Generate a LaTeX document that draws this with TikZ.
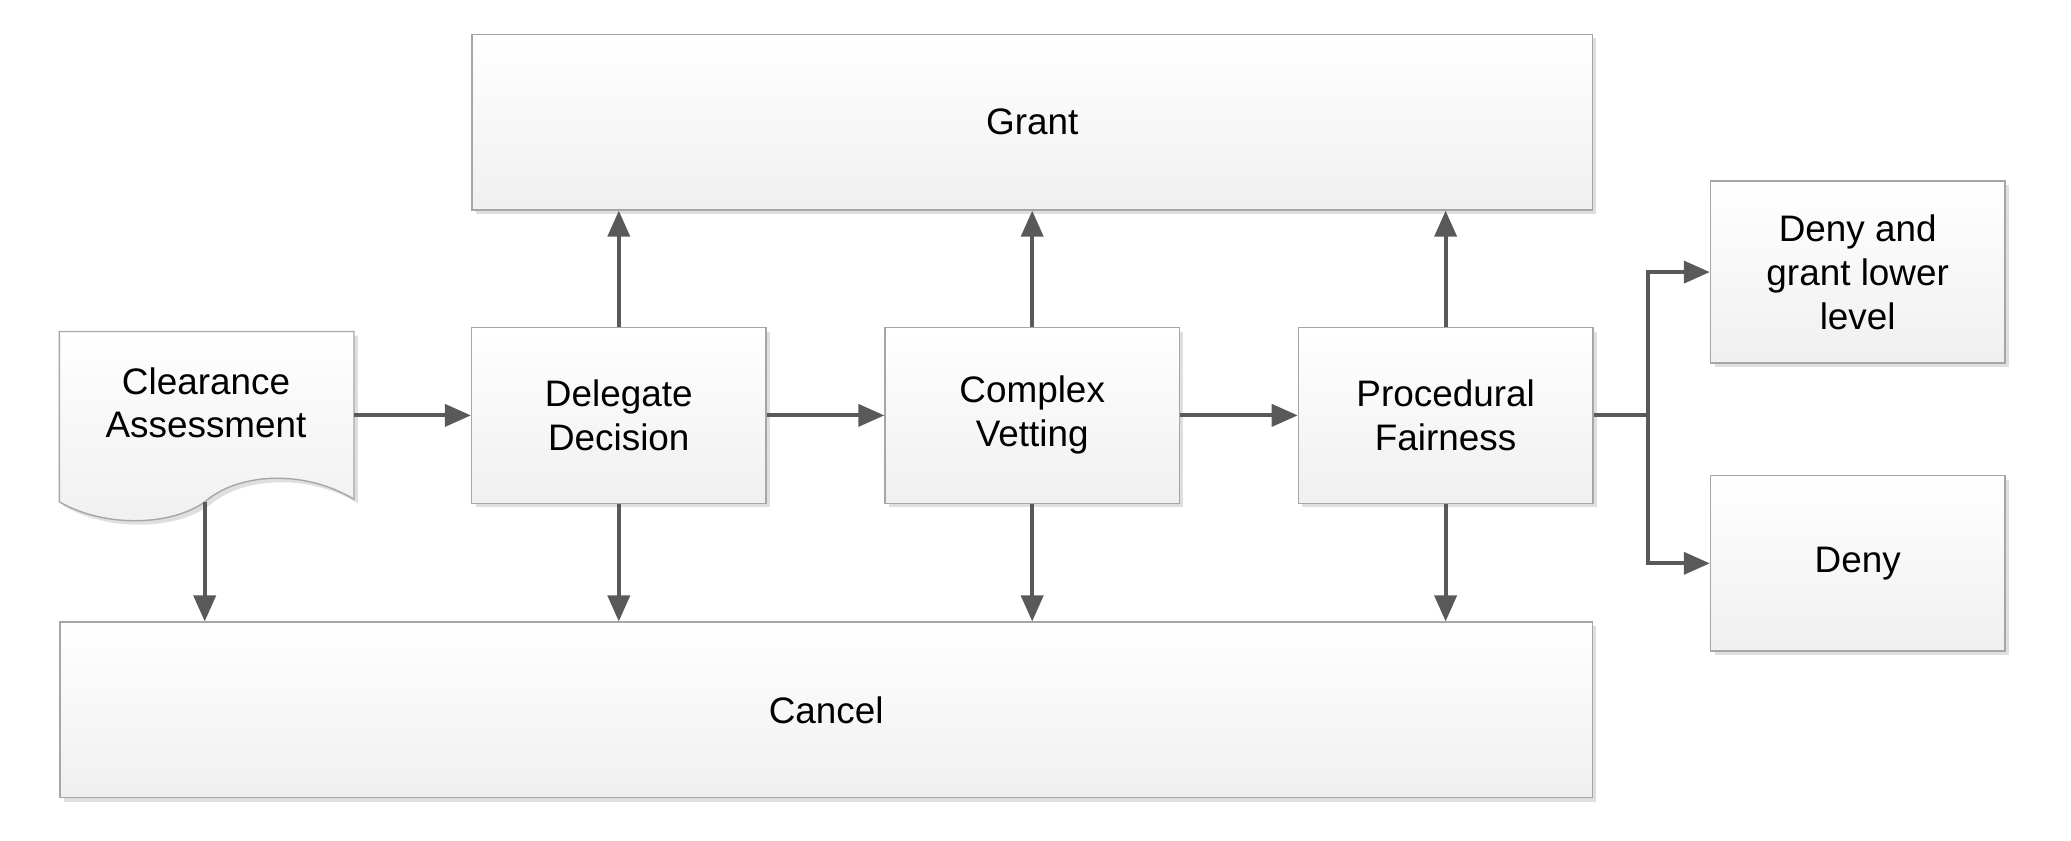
\documentclass[tikz,border=0pt]{standalone}
\usepackage{fontspec}
\setmainfont{Liberation Sans}
\usetikzlibrary{arrows.meta,shadows}
\begin{document}
\begin{tikzpicture}[x=0.013208cm, y=-0.013208cm]
    % Define node styles
    \tikzstyle{box}=[rectangle, draw=gray!70, top color=white, bottom color=gray!12, minimum width=2.945cm, minimum height=1.757cm, align=center, font=\fontsize{10.5}{12.5}\selectfont, drop shadow={shadow xshift=0.04cm, shadow yshift=-0.04cm, opacity=0.25}]
    \tikzstyle{flow}=[-{Triangle[length=2.6mm, width=2.2mm]}, line width=1.1pt, draw=black!65]
    \useasboundingbox (0,0) rectangle (1568,636);

    % Document shape for the assessment
    \draw[draw=gray!70, top color=white, bottom color=gray!12, drop shadow={shadow xshift=0.04cm, shadow yshift=-0.04cm, opacity=0.25}]
        (45,251) -- (268,251) -- (268,378)
        .. controls (230,355) and (180,358) .. (155,380)
        .. controls (130,398) and (80,400) .. (45,380) -- cycle;
    \node[align=center, font=\fontsize{10.5}{12.5}\selectfont] (ca) at (156,305) {Clearance\\Assessment};
    \coordinate (cabot) at (155,380);

    % Main row
    \node[box] (dd) at (468.5,314.5) {Delegate\\Decision};
    \node[box] (cv) at (781.5,314.5) {Complex\\Vetting};
    \node[box] (pf) at (1094.5,314.5) {Procedural\\Fairness};

    % Outcomes
    \node[box, minimum width=11.21cm] (grant) at (781.5,92.5) {Grant};
    \node[box, minimum width=15.33cm] (cancel) at (625.5,537.5) {Cancel};
    \node[box, minimum height=1.82cm] (dgl) at (1406.5,206) {Deny and\\grant lower\\level};
    \node[box] (deny) at (1406.5,426.5) {Deny};

    % Connectors
    \draw[flow] (268,314.5) -- (dd.west);
    \draw[flow] (dd) -- (cv);
    \draw[flow] (cv) -- (pf);
    \draw[flow] (cabot) -- (cabot |- cancel.north);
    \foreach \n in {dd,cv,pf} {
        \draw[flow] (\n.north) -- (\n.north |- grant.south);
        \draw[flow] (\n.south) -- (\n.south |- cancel.north);
    }
    \coordinate (split) at (1248,314.5);
    \draw[line width=1.1pt, draw=black!65] (pf.east) -- (split);
    \draw[flow] (split) |- (dgl.west);
    \draw[flow] (split) |- (deny.west);
\end{tikzpicture}
\end{document}
